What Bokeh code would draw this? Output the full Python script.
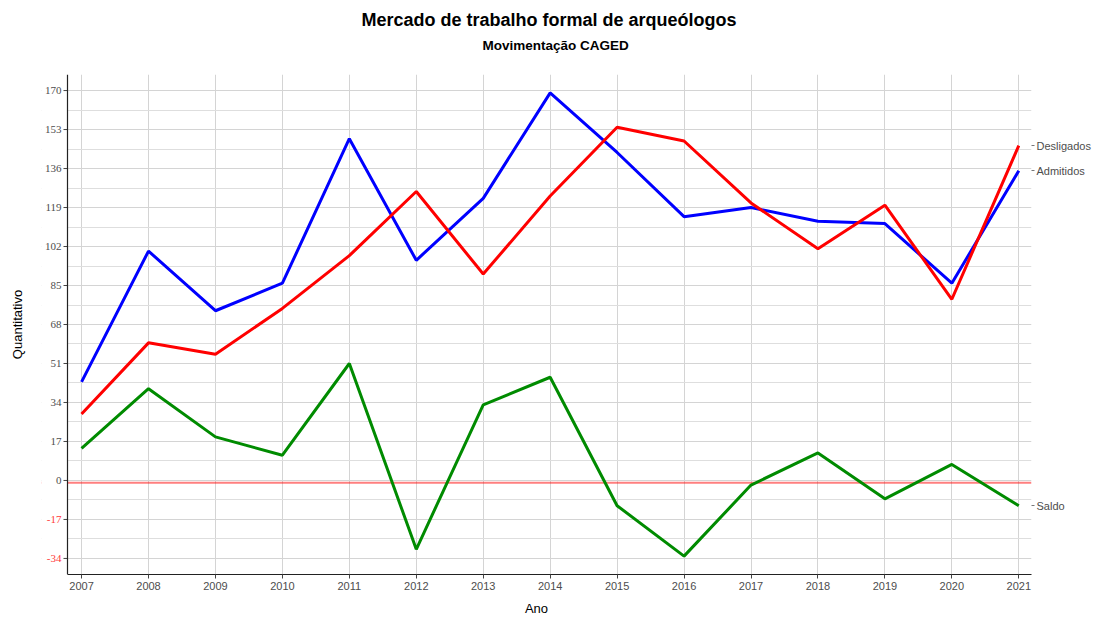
from bokeh.plotting import figure
from bokeh.models import (FixedTicker, LinearAxis, Range1d, Title, Span, BoxAnnotation,
                          ColumnDataSource, CustomJSTickFormatter)
from bokeh.embed import file_html
from bokeh.resources import INLINE

# ---------------- data ----------------
anos = [2007, 2008, 2009, 2010, 2011, 2012, 2013, 2014, 2015, 2016, 2017, 2018, 2019, 2020, 2021]
admitidos = [43, 100, 74, 86, 149, 96, 123, 169, 143, 115, 119, 113, 112, 86, 135]
desligados = [29, 60, 55, 75, 98, 126, 90, 124, 154, 148, 121, 101, 120, 79, 146]
saldo = [14, 40, 19, 11, 51, -30, 33, 45, -11, -33, -2, 12, -8, 7, -11]
y_ticks = [-34, -17, 0, 17, 34, 51, 68, 85, 102, 119, 136, 153, 170]
y_minor = [-25.5, -8.5, 8.5, 25.5, 42.5, 59.5, 76.5, 93.5, 110.5, 127.5, 144.5, 161.5]
ref_line = -1
serie_nomes = ["Admitidos", "Desligados", "Saldo"]
serie_cores = ["#0000ff", "#ff0000", "#008b00"]
titulo = "Mercado de trabalho formal de arqueólogos"
subtitulo = "Movimentação CAGED"

FONT = "Liberation Sans"
X_AXIS, X_END = 2006.79, 2021.19      # visible panel (x)
Y_START, Y_END = -41, 177
PANEL_W, STRIP = 964, 26              # panel width, strip for y tick labels (px)
PX_PER_X = PANEL_W / (X_END - X_AXIS)
X_START = X_AXIS - STRIP / PX_PER_X
TICK = 4

p = figure(frame_width=PANEL_W + STRIP, frame_height=500, output_backend="svg",
           toolbar_location=None, title=None,
           x_range=Range1d(X_START, X_END), y_range=Range1d(Y_START, Y_END),
           min_border_left=0, min_border_right=0, min_border_top=0, min_border_bottom=0)
p.outline_line_color = None
p.background_fill_color = "white"
p.border_fill_color = "white"

# titles: first added is closest to the plot
p.add_layout(Title(text=" ", text_font_size="1px", standoff=13, vertical_align="middle"), "above")
p.add_layout(Title(text=subtitulo, align="left", vertical_align="middle", text_font=FONT,
                   text_font_size="13.5px", text_font_style="bold", text_color="black",
                   standoff=9, offset=441), "above")
p.add_layout(Title(text=titulo, align="left", vertical_align="middle",
                   text_font=FONT, text_font_size="18px", text_font_style="bold",
                   text_color="black", standoff=3, offset=320), "above")
p.add_layout(Title(text=" ", text_font_size="1px", standoff=4, vertical_align="middle"), "above")

# x axis
xa = p.xaxis[0]
xa.ticker = FixedTicker(ticks=anos)
xa.bounds = (X_AXIS, X_END)
xa.axis_label = "Ano"
xa.axis_line_color = "#222222"
xa.axis_line_width = 1.2
xa.major_tick_line_color = "#444444"
xa.major_tick_in = 0
xa.major_tick_out = TICK
xa.minor_tick_line_color = None
xa.major_label_standoff = 3
xa.axis_label_standoff = 8

# y axis: only its title; ticks and labels are drawn next to the panel
ya = p.yaxis[0]
ya.ticker = FixedTicker(ticks=y_ticks, minor_ticks=y_minor)
ya.formatter = CustomJSTickFormatter(code="return '';")
ya.axis_label = "Quantitativo"
ya.axis_line_color = None
ya.major_tick_line_color = None
ya.minor_tick_line_color = None
ya.major_tick_out = 0
ya.major_label_standoff = 0
ya.axis_label_standoff = 13
# small spacer on the far left
p.add_layout(Title(text=" ", text_font_size="1px", standoff=3, vertical_align="middle"), "left")

for ax in (xa, ya):
    ax.major_label_text_font = FONT
    ax.major_label_text_font_size = "11px"
    ax.major_label_text_color = "#4d4d4d"
    ax.axis_label_text_font = FONT
    ax.axis_label_text_font_size = "13px"
    ax.axis_label_text_font_style = "normal"
    ax.axis_label_text_color = "black"

# grids
p.xgrid.grid_line_color = "#d4d4d4"
p.ygrid.grid_line_color = "#d4d4d4"
p.ygrid.minor_grid_line_color = "#dedede"

# reference line (under the strip mask and under the series)
p.add_layout(Span(location=ref_line, dimension="width", line_color="#ff0000",
                  line_alpha=0.5, line_width=2, level="underlay"))
# white mask for the label strip
p.add_layout(BoxAnnotation(left=X_START, right=X_AXIS, bottom=Y_START, top=Y_END,
                           fill_color="white", fill_alpha=1.0, line_color=None,
                           level="underlay"))

# left axis line
p.add_layout(Span(location=X_AXIS, dimension="height", line_color="#222222", line_width=1.2))

# y ticks and labels
tick_src = ColumnDataSource(dict(
    x0=[X_AXIS - TICK / PX_PER_X] * len(y_ticks), x1=[X_AXIS] * len(y_ticks),
    y=y_ticks, t=[str(v) for v in y_ticks],
    c=["#ff3b3b" if v < 0 else "#4d4d4d" for v in y_ticks]))
p.segment(x0="x0", x1="x1", y0="y", y1="y", source=tick_src, line_color="#444444", line_width=1)
p.text(x="x1", y="y", text="t", source=tick_src, x_offset=-(TICK + 2), text_align="right",
       text_baseline="middle", text_font=FONT, text_font_size="11px", text_color="c")

# right axis with series names
last_vals = [admitidos[-1], desligados[-1], saldo[-1]]
rax = LinearAxis(ticker=FixedTicker(ticks=last_vals, minor_ticks=[]),
                 formatter=CustomJSTickFormatter(args=dict(vals=last_vals, names=serie_nomes),
                                                 code="const i = vals.indexOf(tick); return i >= 0 ? names[i] : '';"))
rax.axis_line_color = None
rax.major_tick_line_color = "#777777"
rax.major_tick_in = 0
rax.major_tick_out = 3
rax.minor_tick_line_color = None
rax.major_label_standoff = 2
rax.major_label_text_font = FONT
rax.major_label_text_font_size = "11px"
rax.major_label_text_color = "#4d4d4d"
p.add_layout(rax, "right")

# series
for vals, cor in zip([admitidos, desligados, saldo], serie_cores):
    p.line(anos, vals, line_color=cor, line_width=3)

open("out.html", "w").write(file_html(p, INLINE))
